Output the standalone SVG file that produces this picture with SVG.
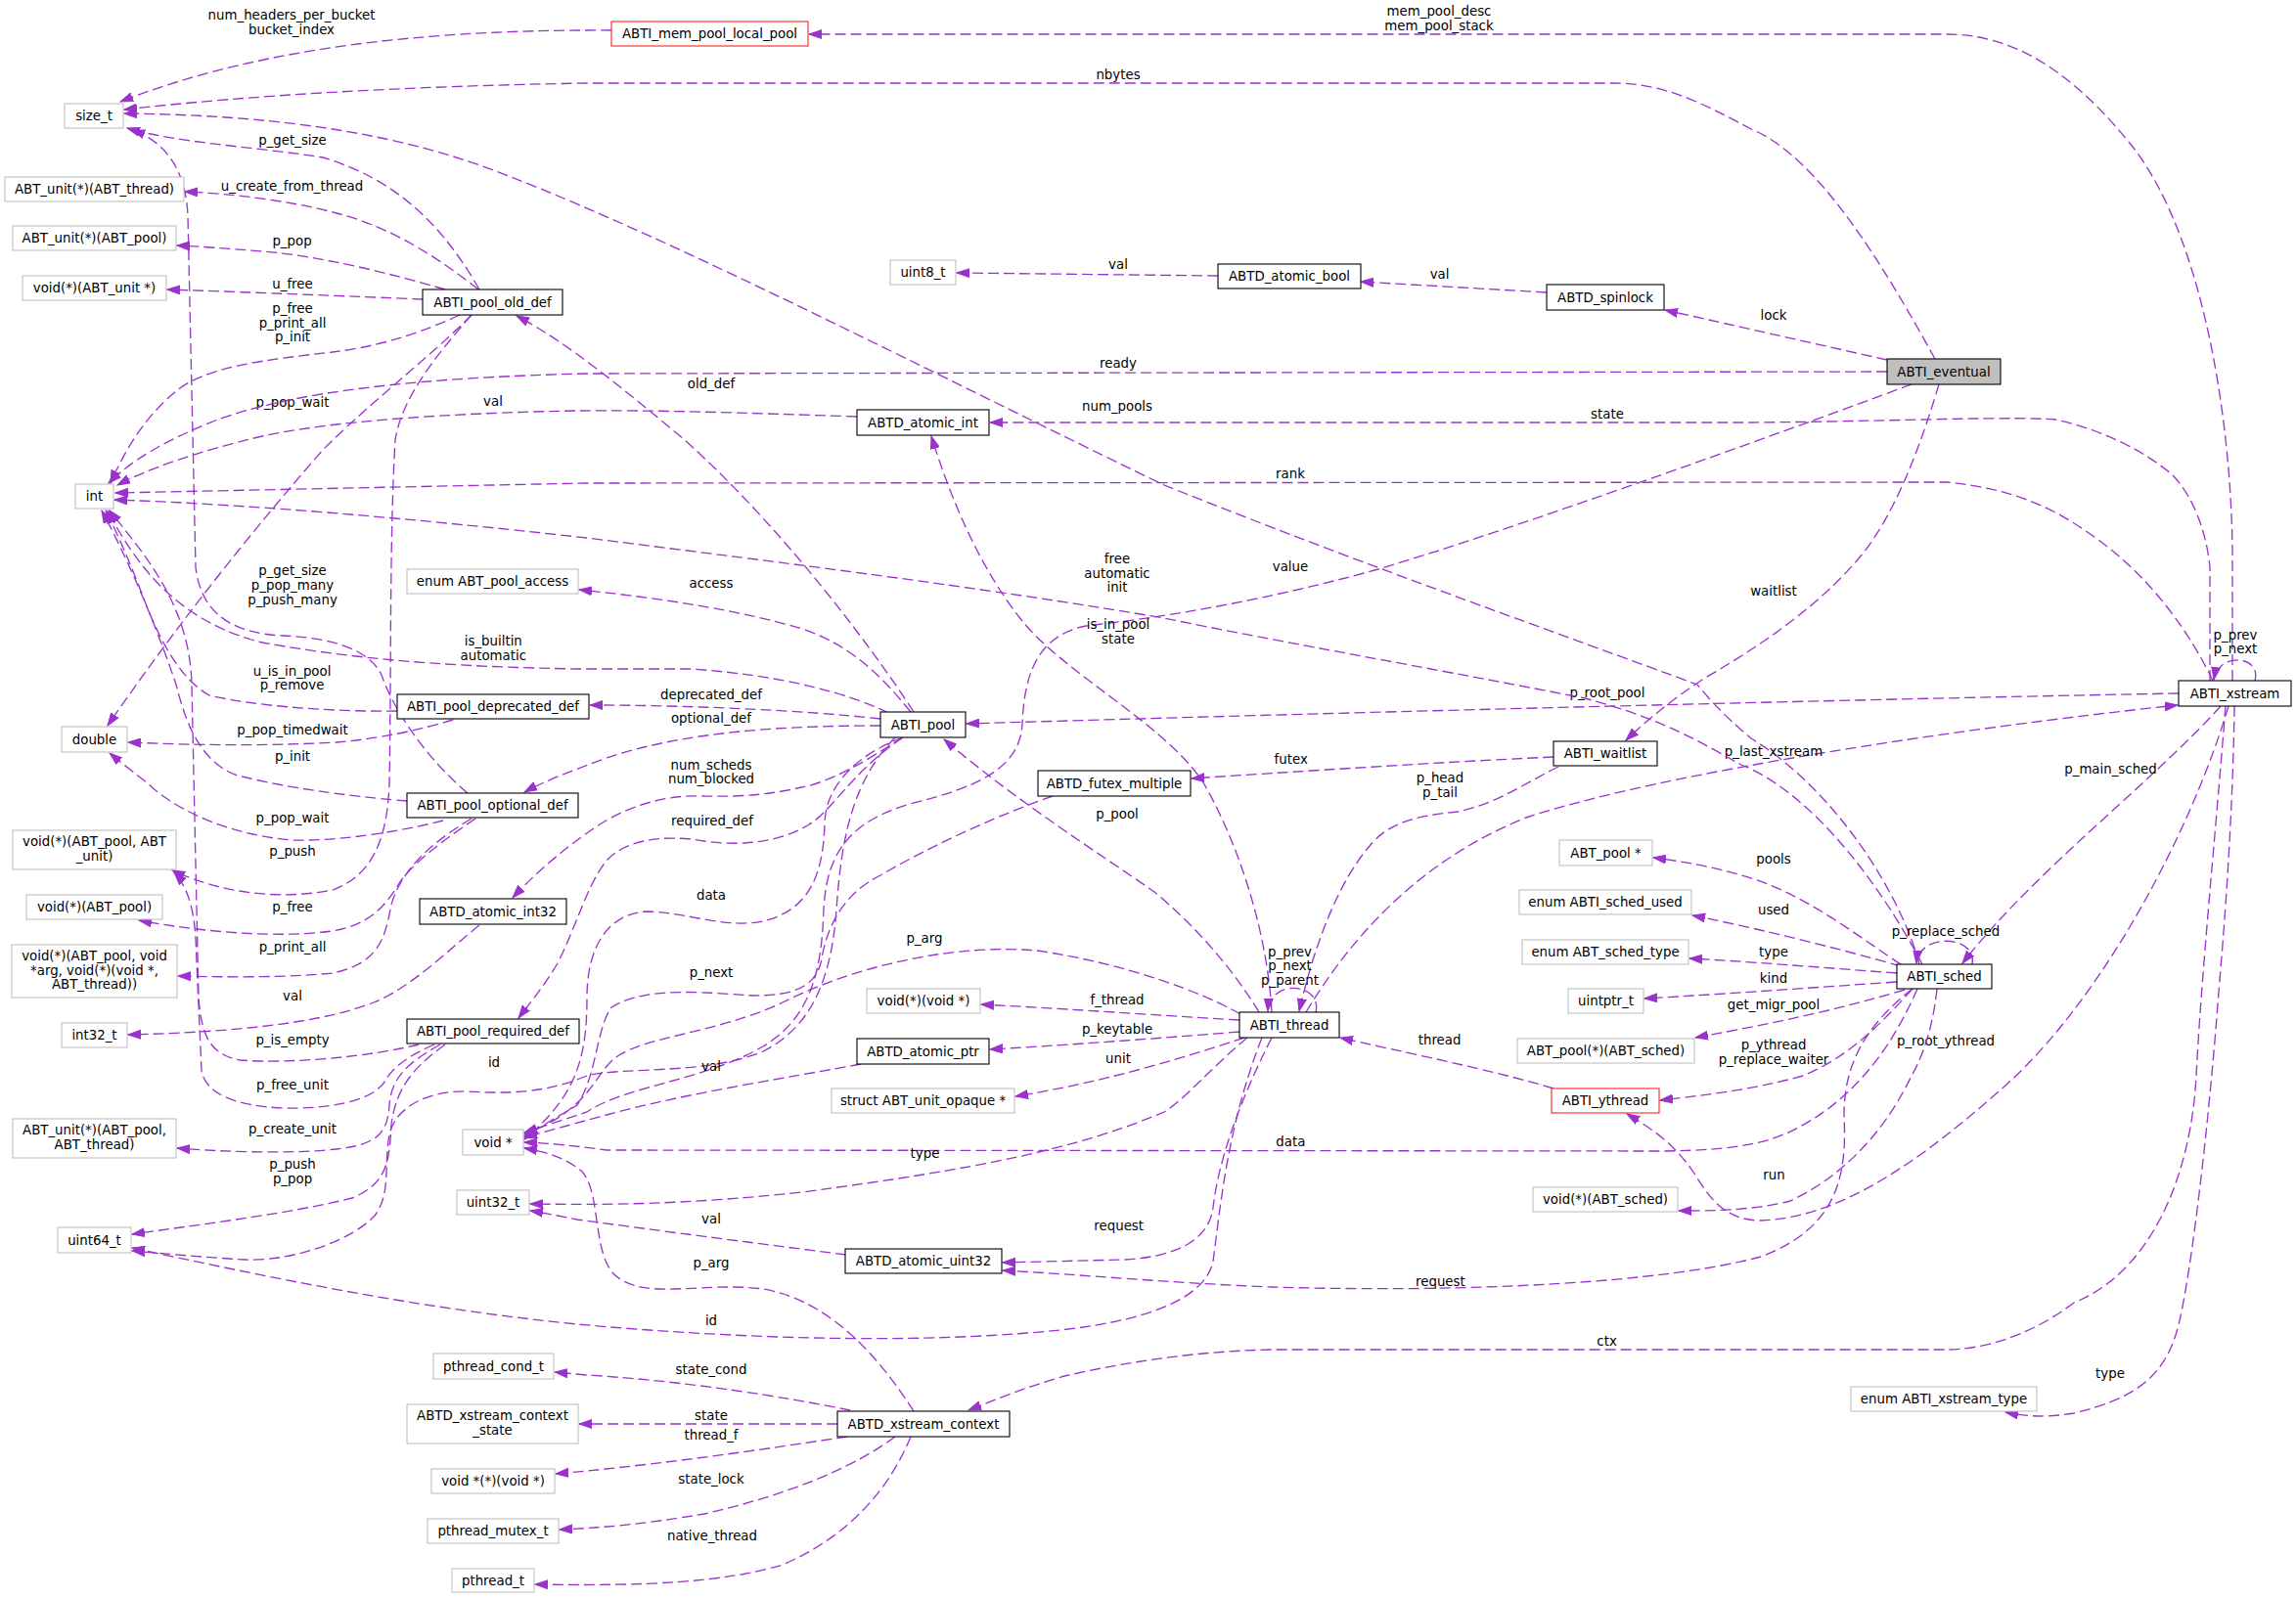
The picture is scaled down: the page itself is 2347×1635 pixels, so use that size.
<svg xmlns="http://www.w3.org/2000/svg" width="2347" height="1635" viewBox="0 0 2347 1635">
<style>
text{font-family:"DejaVu Sans","Liberation Sans",sans-serif;font-size:13.33px;fill:#000}
.node rect{fill:#fff;stroke:#000;stroke-width:1.1}
.node.g rect{stroke:#bfbfbf}
.node.r rect{stroke:#ff2020}
.node.f rect{fill:#bfbfbf}
.node text{text-anchor:middle}
#edges path{fill:none;stroke:#9a32cd;stroke-width:1.33;stroke-dasharray:11,5;marker-end:url(#ah)}
#edges text{text-anchor:middle}
</style>
<defs>
<marker id="ah" markerUnits="userSpaceOnUse" markerWidth="14" markerHeight="10" refX="13" refY="5" orient="auto">
<path d="M0,0.5 L13,5 L0,9.5 z" fill="#9a32cd" stroke="#9a32cd" stroke-width="1"/>
</marker>
</defs>
<rect width="2347" height="1635" fill="#fff"/>
<g id="edges">
<path d="M625,31 C470,30 280,42 123,104"/><text x="298" y="20.3">num_headers_per_bucket</text><text x="298" y="35.3">bucket_index</text>
<path d="M2282,696 L2282,560 C2280,420 2250,240 2180,150 C2120,75 2060,35 1990,35 L827,35"/><text x="1471" y="16">mem_pool_desc</text><text x="1471" y="31">mem_pool_stack</text>
<path d="M1978,367 C1930,280 1860,160 1790,132 C1740,105 1700,85 1650,85 L600,85 C420,88 260,97 127,112"/><text x="1143" y="80.6">nbytes</text>
<path d="M1962,986 C1945,920 1880,810 1790,755 C1760,730 1745,712 1735,700 C1600,650 1400,580 1190,496 C950,380 700,250 520,180 C420,140 300,118 127,116"/><text x="1142" y="420">num_pools</text>
<path d="M490,296 C455,235 410,185 330,161 C260,150 180,146 130,131"/><text x="299" y="148.2">p_get_size</text>
<path d="M489,296 C450,265 400,232 344,218 C300,206 240,198 189,196"/><text x="298.5" y="195">u_create_from_thread</text>
<path d="M455,296 C400,280 330,262 268,257 C230,254 205,252 181,251"/><text x="298.5" y="251">p_pop</text>
<path d="M432,306 C360,303 260,299 171,296"/><text x="299" y="295">u_free</text>
<path d="M470,322 C420,345 380,355 340,360 C270,368 210,375 180,400 C150,425 130,455 113,494"/><text x="299" y="320">p_free</text><text x="299" y="335">p_print_all</text><text x="299" y="349.2">p_init</text>
<path d="M482,322 C440,365 380,410 330,460 C260,540 180,640 110,742"/><text x="299" y="416.4">p_pop_wait</text>
<path d="M482,322 C440,370 410,410 404,450 C398,550 400,700 398,800 C396,860 380,895 340,910 C290,920 230,915 176,890"/><text x="299" y="875">p_push</text>
<path d="M1929,380 L600,382 C430,386 300,400 220,430 C170,450 135,470 111,494"/><text x="1143" y="376">ready</text>
<path d="M876,426 C760,422 660,419 590,420 C470,422 340,430 268,446 C200,462 150,480 120,496"/><text x="504" y="415">val</text>
<path d="M2262,696 C2240,650 2200,590 2138,547 C2100,520 2060,500 1990,493 L600,494 L118,504"/><text x="1319" y="489">rank</text>
<path d="M2259,696 L2259,580 C2255,540 2240,505 2220,485 C2190,460 2150,440 2101,429 C2050,425 1900,432 1770,432 L1012,432"/><text x="1643" y="427.6">state</text>
<path d="M1929,368 L1702,317"/><text x="1813" y="327">lock</text>
<path d="M1581,299 L1391,288"/><text x="1471.6" y="285">val</text>
<path d="M1245,282 L978,279"/><text x="1143" y="275">val</text>
<path d="M1982,393 C1965,450 1940,520 1905,565 C1860,620 1800,660 1740,695 C1710,715 1685,735 1662,757"/><text x="1813" y="609">waitlist</text>
<path d="M1954,393 C1800,450 1550,540 1409,582 C1300,612 1200,630 1110,640 C1060,650 1047,690 1045,740 C1043,785 1000,805 930,822 C870,840 845,870 842,930 C840,990 830,1040 780,1070 C720,1105 640,1110 600,1137 L536,1158"/><text x="1319" y="584">value</text>
<path d="M1076,814 C1030,830 960,860 900,895 C860,915 845,950 840,980 C835,1010 810,1018 770,1018 C720,1015 660,1008 625,1030 C610,1050 610,1100 590,1130 L536,1162"/><text x="727" y="999.2">p_next</text>
<path d="M923,754 C880,770 845,800 843,840 C842,890 830,930 780,942 C740,950 700,932 660,932 C620,935 600,970 600,1020 C600,1080 590,1120 536,1165"/><text x="727" y="920">data</text>
<path d="M923,754 C870,790 850,830 827,843 C800,860 760,866 720,860 C680,853 640,858 620,880 C600,905 590,945 570,985 C555,1010 542,1025 530,1041"/><text x="728" y="844">required_def</text>
<path d="M923,754 C890,775 850,800 819,805 C790,812 760,815 720,814 C680,812 640,825 610,845 C580,865 550,890 524,918"/><text x="727" y="787">num_scheds</text><text x="727" y="801">num_blocked</text>
<path d="M900,742 C800,742 700,748 620,775 C585,788 558,798 536,810"/><text x="727" y="738.9">optional_def</text>
<path d="M900,735 C820,726 700,721 603,721"/><text x="727" y="714.6">deprecated_def</text>
<path d="M908,729 C870,710 800,690 705,684 L590,684 C480,682 380,677 268,657 C200,640 150,600 110,522"/><text x="504.3" y="660">is_builtin</text><text x="504.3" y="675">automatic</text>
<path d="M931,728 C900,690 870,660 820,643 C760,625 680,612 592,603"/><text x="727" y="601">access</text>
<path d="M934,728 C890,660 800,540 700,450 C640,400 580,350 528,323"/><text x="727" y="396.6">old_def</text>
<path d="M915,754 C870,800 860,860 855,930 C850,1000 830,1050 780,1075 C720,1100 640,1090 600,1100 C570,1112 540,1120 478,1116 C440,1115 405,1130 398,1160 C392,1195 400,1220 383,1243 C360,1268 300,1290 250,1288 C200,1285 170,1282 135,1279"/><text x="505" y="1090.6">id</text>
<path d="M880,1088 C800,1103 700,1118 620,1140 L536,1163"/><text x="727" y="1095">val</text>
<path d="M1268,1037 C1230,1015 1150,985 1060,972 C980,965 880,985 800,1025 C730,1058 650,1060 625,1085 C605,1105 600,1135 536,1160"/><text x="945" y="963.6">p_arg</text>
<path d="M1960,1011 C1930,1080 1890,1125 1840,1152 C1810,1168 1780,1176 1700,1177 L620,1176 C590,1172 565,1169 536,1168"/><text x="1319.3" y="1171.8">data</text>
<path d="M934,1443 C900,1390 850,1330 780,1318 C720,1310 660,1330 630,1305 C605,1285 615,1220 595,1198 C580,1185 560,1178 536,1174"/><text x="727" y="1295.6">p_arg</text>
<path d="M1275,1061 C1240,1090 1210,1125 1190,1137 C1100,1175 1000,1195 820,1219 C700,1232 620,1232 542,1231"/><text x="945.5" y="1183.8">type</text>
<path d="M865,1283 C780,1272 700,1262 590,1247 C570,1243 555,1240 542,1238"/><text x="727" y="1251">val</text>
<path d="M1300,1061 C1265,1130 1245,1190 1240,1235 C1235,1270 1200,1285 1150,1288 L1025,1291"/><text x="1143.7" y="1257.8">request</text>
<path d="M1955,1011 C1905,1050 1885,1090 1885,1140 C1888,1200 1880,1255 1800,1285 C1700,1312 1500,1322 1300,1316 C1200,1312 1100,1303 1025,1299"/><text x="1472.4" y="1315">request</text>
<path d="M1290,1061 C1255,1150 1248,1230 1240,1290 C1230,1335 1150,1356 1050,1363 C900,1375 720,1366 590,1354 C420,1337 270,1305 135,1276"/><text x="727" y="1354.6">id</text>
<path d="M1267,1043 C1180,1038 1100,1032 1003,1027"/><text x="1142" y="1026.6">f_thread</text>
<path d="M1267,1055 C1180,1062 1100,1068 1012,1073"/><text x="1142" y="1057">p_keytable</text>
<path d="M1272,1061 C1200,1085 1120,1108 1038,1121"/><text x="1143" y="1087">unit</text>
<path d="M1287,1035 C1260,990 1220,945 1180,912 C1120,870 1040,820 965,756"/><text x="1142" y="837">p_pool</text>
<path d="M1300,1035 C1296,960 1270,870 1230,800 C1190,740 1090,690 1045,635 C1005,585 975,520 952,446"/><text x="1143" y="643.2">is_in_pool</text><text x="1143" y="657.5">state</text>
<path d="M1588,774 C1500,778 1400,784 1218,796"/><text x="1319.7" y="780.6">futex</text>
<path d="M1593,784 C1560,800 1530,822 1490,830 C1450,834 1420,840 1400,865 C1370,900 1345,960 1328,1034"/><text x="1472" y="800">p_head</text><text x="1472" y="815">p_tail</text>
<path d="M1345,1035 C1352,1005 1298,1000 1296,1034"/><text x="1318.5" y="977.5">p_prev</text><text x="1318.5" y="992">p_next</text><text x="1318.5" y="1007">p_parent</text>
<path d="M1335,1035 C1380,960 1450,880 1560,836 C1700,790 2000,745 2226,721"/><text x="1813" y="772.8">p_last_xstream</text>
<path d="M2227,709 C2000,713 1500,725 988,740"/><text x="1643" y="712.8">p_root_pool</text>
<path d="M2270,722 C2200,800 2080,890 2006,985"/><text x="2157.5" y="791">p_main_sched</text>
<path d="M2305,696 C2312,670 2268,666 2263,695"/><text x="2285" y="653.6">p_prev</text><text x="2285" y="668.2">p_next</text>
<path d="M2278,722 C2240,850 2150,1020 2050,1110 C1960,1190 1880,1245 1800,1248 C1760,1248 1745,1220 1732,1200 C1712,1170 1690,1155 1663,1139"/><text x="1989" y="1069">p_root_ythread</text>
<path d="M2275,722 C2265,850 2250,1000 2245,1100 C2240,1200 2200,1300 2120,1332 C2070,1370 2020,1380 1990,1380 L1300,1380 C1200,1382 1120,1400 1088,1407 C1050,1418 1020,1430 990,1442"/><text x="1642.6" y="1376.2">ctx</text>
<path d="M2284,722 C2283,800 2278,900 2268,1014 C2258,1150 2240,1300 2228,1350 C2215,1410 2180,1430 2120,1445 C2090,1450 2070,1448 2050,1444"/><text x="2157" y="1409.3">type</text>
<path d="M1943,986 C1910,965 1860,925 1807,904 C1770,890 1730,882 1690,877"/><text x="1813" y="883.2">pools</text>
<path d="M1943,988 C1880,970 1800,950 1730,936"/><text x="1813" y="934.6">used</text>
<path d="M1939,995 C1870,990 1800,984 1727,980"/><text x="1813" y="977.5">type</text>
<path d="M1939,1004 C1850,1010 1770,1016 1681,1021"/><text x="1813" y="1004.6">kind</text>
<path d="M1947,1012 C1880,1032 1820,1045 1733,1061"/><text x="1813" y="1032">get_migr_pool</text>
<path d="M1955,1011 C1920,1050 1890,1080 1843,1100 C1800,1112 1760,1118 1697,1125"/><text x="1813" y="1072.8">p_ythread</text><text x="1813" y="1088.2">p_replace_waiter</text>
<path d="M1980,1011 C1975,1060 1960,1090 1954,1100 C1930,1150 1890,1200 1830,1228 C1790,1238 1750,1238 1716,1238"/><text x="1813.4" y="1205.6">run</text>
<path d="M1965,986 C1920,900 1850,810 1780,782 C1740,760 1700,735 1620,714 C1500,690 1300,655 1190,632 C1000,600 820,578 600,550 C420,530 260,516 117,511"/><text x="1142" y="576">free</text><text x="1142" y="591">automatic</text><text x="1142" y="605.3">init</text>
<path d="M2016,986 C2022,956 1962,953 1959,985"/><text x="1989" y="957">p_replace_sched</text>
<path d="M1588,1113 C1530,1095 1430,1075 1370,1061"/><text x="1471.6" y="1067.8">thread</text>
<path d="M406,727 C340,728 260,722 214,711 C185,695 165,657 150,620 C135,580 120,545 108,522"/><text x="298.5" y="691">u_is_in_pool</text><text x="298.5" y="705.3">p_remove</text>
<path d="M463,736 C430,746 390,755 344,759 C270,763 200,762 131,759"/><text x="299" y="751">p_pop_timedwait</text>
<path d="M478,811 C430,770 400,720 390,690 C375,660 330,652 290,650 C235,648 205,625 200,580 L192,220 C190,175 170,145 135,133"/><text x="299" y="588.2">p_get_size</text><text x="299" y="603.2">p_pop_many</text><text x="299" y="617.5">p_push_many</text>
<path d="M416,819 C370,815 300,808 240,792 C205,778 190,740 180,700 C160,640 130,570 104,522"/><text x="299" y="777.5">p_init</text>
<path d="M453,839 C410,850 350,860 300,859 C240,855 180,830 150,800 C130,785 118,775 112,770"/><text x="299" y="841">p_pop_wait</text>
<path d="M486,837 C460,855 430,875 410,900 C395,925 380,945 340,952 C280,960 200,952 142,941"/><text x="299" y="932">p_free</text>
<path d="M482,837 C440,862 410,890 400,925 C394,955 390,985 340,995 C290,1000 230,999 182,998"/><text x="299" y="973.2">p_print_all</text>
<path d="M490,946 C460,970 420,1010 382,1025 C330,1045 250,1055 131,1058"/><text x="299" y="1022.8">val</text>
<path d="M428,1068 C380,1080 300,1088 245,1084 C215,1078 206,1060 203,1020 L196,700 C194,620 150,570 112,522"/><text x="299" y="1067.5">p_is_empty</text>
<path d="M444,1068 C420,1078 400,1092 394,1105 C380,1128 330,1134 290,1133 C240,1131 210,1118 206,1095 L200,960 C198,925 190,905 178,892"/><text x="299" y="1113.5">p_free_unit</text>
<path d="M450,1068 C420,1085 400,1100 398,1130 C396,1160 385,1170 344,1175 C300,1180 230,1178 181,1174"/><text x="299" y="1159.2">p_create_unit</text>
<path d="M455,1068 C425,1090 405,1110 400,1150 C398,1190 395,1210 360,1225 C300,1240 220,1250 135,1262"/><text x="299" y="1195">p_push</text><text x="299" y="1209.6">p_pop</text>
<path d="M869,1442 C800,1428 700,1412 600,1406 L567,1403"/><text x="727" y="1404.8">state_cond</text>
<path d="M856,1456 L592,1456"/><text x="727" y="1452">state</text>
<path d="M866,1469 C780,1482 680,1497 568,1507"/><text x="727" y="1471.7">thread_f</text>
<path d="M915,1469 C880,1495 820,1525 720,1548 C660,1558 620,1562 572,1564"/><text x="727" y="1517">state_lock</text>
<path d="M931,1469 C910,1520 870,1570 800,1600 C740,1618 660,1622 547,1620"/><text x="728" y="1574.7">native_thread</text>
</g>
<g id="n_size_t" class="node g"><rect x="66" y="106" width="60" height="25"/><text x="96" y="123.1">size_t</text></g>
<g id="n_unit_thread" class="node g"><rect x="5" y="181" width="183" height="25"/><text x="96.5" y="198.1">ABT_unit(*)(ABT_thread)</text></g>
<g id="n_unit_pool" class="node g"><rect x="13" y="231" width="167" height="25"/><text x="96.5" y="248.1">ABT_unit(*)(ABT_pool)</text></g>
<g id="n_void_unit" class="node g"><rect x="23" y="282" width="147" height="25"/><text x="96.5" y="299.1">void(*)(ABT_unit *)</text></g>
<g id="n_int" class="node g"><rect x="77" y="495" width="39" height="25"/><text x="96.5" y="512.1">int</text></g>
<g id="n_double" class="node g"><rect x="63" y="743" width="67" height="26"/><text x="96.5" y="760.6">double</text></g>
<g id="n_void_pool_unit" class="node g"><rect x="13" y="849" width="167" height="40"/><text x="96.5" y="865">void(*)(ABT_pool, ABT</text><text x="96.5" y="880">_unit)</text></g>
<g id="n_void_pool" class="node g"><rect x="27" y="915" width="139" height="25"/><text x="96.5" y="932.1">void(*)(ABT_pool)</text></g>
<g id="n_void_pool_arg" class="node g"><rect x="12" y="966" width="169" height="54"/><text x="96.5" y="982">void(*)(ABT_pool, void</text><text x="96.5" y="996.5">*arg, void(*)(void *,</text><text x="96.5" y="1011">ABT_thread))</text></g>
<g id="n_int32" class="node g"><rect x="63" y="1046" width="67" height="25"/><text x="96.5" y="1063.1">int32_t</text></g>
<g id="n_unit_pool_thread" class="node g"><rect x="13" y="1144" width="167" height="40"/><text x="96.5" y="1160">ABT_unit(*)(ABT_pool,</text><text x="96.5" y="1174.5">ABT_thread)</text></g>
<g id="n_uint64" class="node g"><rect x="59" y="1255" width="75" height="26"/><text x="96.5" y="1272.6">uint64_t</text></g>
<g id="n_old_def" class="node"><rect x="432" y="296" width="143" height="26"/><text x="503.5" y="313.6">ABTI_pool_old_def</text></g>
<g id="n_pool_access" class="node g"><rect x="416" y="582" width="175" height="25"/><text x="503.5" y="599.1">enum ABT_pool_access</text></g>
<g id="n_deprecated" class="node"><rect x="406" y="710" width="196" height="25"/><text x="504" y="727.1">ABTI_pool_deprecated_def</text></g>
<g id="n_optional" class="node"><rect x="416" y="811" width="175" height="25"/><text x="503.5" y="828.1">ABTI_pool_optional_def</text></g>
<g id="n_atomic_int32" class="node"><rect x="429" y="919" width="150" height="26"/><text x="504" y="936.6">ABTD_atomic_int32</text></g>
<g id="n_required" class="node"><rect x="416" y="1042" width="176" height="25"/><text x="504" y="1059.1">ABTI_pool_required_def</text></g>
<g id="n_void_ptr" class="node g"><rect x="473" y="1155" width="62" height="26"/><text x="504" y="1172.6">void *</text></g>
<g id="n_uint32" class="node g"><rect x="467" y="1217" width="74" height="25"/><text x="504" y="1234.1">uint32_t</text></g>
<g id="n_cond" class="node g"><rect x="443" y="1384" width="123" height="26"/><text x="504.5" y="1401.6">pthread_cond_t</text></g>
<g id="n_ctx_state" class="node g"><rect x="416" y="1436" width="175" height="40"/><text x="503.5" y="1452">ABTD_xstream_context</text><text x="503.5" y="1467">_state</text></g>
<g id="n_void_fn" class="node g"><rect x="441" y="1502" width="126" height="25"/><text x="504" y="1519.1">void *(*)(void *)</text></g>
<g id="n_mutex" class="node g"><rect x="437" y="1553" width="134" height="25"/><text x="504" y="1570.1">pthread_mutex_t</text></g>
<g id="n_pthread" class="node g"><rect x="462" y="1604" width="84" height="24"/><text x="504" y="1620.6">pthread_t</text></g>
<g id="n_mem_pool" class="node r"><rect x="625" y="22" width="201" height="25"/><text x="725.5" y="39.1">ABTI_mem_pool_local_pool</text></g>
<g id="n_uint8" class="node g"><rect x="910" y="266" width="67" height="25"/><text x="943.5" y="283.1">uint8_t</text></g>
<g id="n_atomic_int" class="node"><rect x="876" y="419" width="135" height="26"/><text x="943.5" y="436.6">ABTD_atomic_int</text></g>
<g id="n_pool" class="node"><rect x="900" y="728" width="87" height="26"/><text x="943.5" y="745.6">ABTI_pool</text></g>
<g id="n_void_void" class="node g"><rect x="886" y="1011" width="116" height="25"/><text x="944" y="1028.1">void(*)(void *)</text></g>
<g id="n_atomic_ptr" class="node"><rect x="876" y="1062" width="135" height="26"/><text x="943.5" y="1079.6">ABTD_atomic_ptr</text></g>
<g id="n_unit_opaque" class="node g"><rect x="850" y="1113" width="187" height="25"/><text x="943.5" y="1130.1">struct ABT_unit_opaque *</text></g>
<g id="n_atomic_uint32" class="node"><rect x="864" y="1277" width="160" height="25"/><text x="944" y="1294.1">ABTD_atomic_uint32</text></g>
<g id="n_xs_ctx" class="node"><rect x="856" y="1443" width="176" height="26"/><text x="944" y="1460.6">ABTD_xstream_context</text></g>
<g id="n_atomic_bool" class="node"><rect x="1245" y="270" width="146" height="25"/><text x="1318" y="287.1">ABTD_atomic_bool</text></g>
<g id="n_futex" class="node"><rect x="1061" y="788" width="156" height="26"/><text x="1139" y="805.6">ABTD_futex_multiple</text></g>
<g id="n_thread" class="node"><rect x="1267" y="1035" width="102" height="26"/><text x="1318" y="1052.6">ABTI_thread</text></g>
<g id="n_spinlock" class="node"><rect x="1581" y="291" width="120" height="26"/><text x="1641" y="308.6">ABTD_spinlock</text></g>
<g id="n_waitlist" class="node"><rect x="1588" y="758" width="106" height="25"/><text x="1641" y="775.1">ABTI_waitlist</text></g>
<g id="n_abt_pool_ptr" class="node g"><rect x="1594" y="859" width="95" height="26"/><text x="1641.5" y="876.6">ABT_pool *</text></g>
<g id="n_sched_used" class="node g"><rect x="1553" y="910" width="176" height="25"/><text x="1641" y="927.1">enum ABTI_sched_used</text></g>
<g id="n_sched_type" class="node g"><rect x="1556" y="961" width="170" height="25"/><text x="1641" y="978.1">enum ABT_sched_type</text></g>
<g id="n_uintptr" class="node g"><rect x="1603" y="1011" width="77" height="25"/><text x="1641.5" y="1028.1">uintptr_t</text></g>
<g id="n_pool_fn" class="node g"><rect x="1551" y="1062" width="181" height="25"/><text x="1641.5" y="1079.1">ABT_pool(*)(ABT_sched)</text></g>
<g id="n_ythread" class="node r"><rect x="1586" y="1113" width="110" height="25"/><text x="1641" y="1130.1">ABTI_ythread</text></g>
<g id="n_void_sched" class="node g"><rect x="1567" y="1214" width="148" height="25"/><text x="1641" y="1231.1">void(*)(ABT_sched)</text></g>
<g id="n_eventual" class="node f"><rect x="1929" y="367" width="116" height="26"/><text x="1987" y="384.6">ABTI_eventual</text></g>
<g id="n_sched" class="node"><rect x="1939" y="986" width="97" height="25"/><text x="1987.5" y="1003.1">ABTI_sched</text></g>
<g id="n_xs_type" class="node g"><rect x="1892" y="1418" width="190" height="25"/><text x="1987" y="1435.1">enum ABTI_xstream_type</text></g>
<g id="n_xstream" class="node"><rect x="2227" y="696" width="115" height="26"/><text x="2284.5" y="713.6">ABTI_xstream</text></g>
</svg>
